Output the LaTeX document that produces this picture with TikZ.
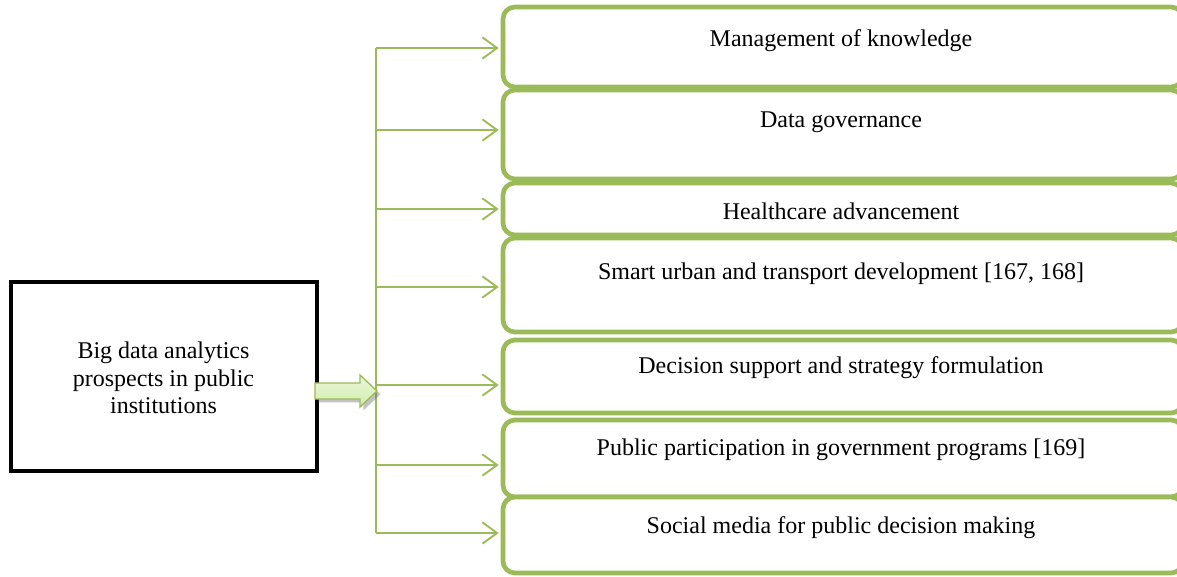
\documentclass[tikz,border=0pt]{standalone}
\usepackage{fontspec}
\setmainfont{Liberation Serif}
\usetikzlibrary{arrows.meta,shadows}
\definecolor{ggreen}{HTML}{9BBB59}
\definecolor{glight}{HTML}{EAF7DA}
\definecolor{gmid}{HTML}{D2ECAE}
\begin{document}
\begin{tikzpicture}[x=0.75pt,y=-0.75pt,
  gbox/.style={draw=ggreen,line width=3.5pt,rounded corners=9pt,fill=white,inner sep=0pt},
  txt/.style={font=\fontsize{18}{20.5}\selectfont,align=center,inner sep=0pt},
  garrow/.style={draw=ggreen,line width=1.4pt,-{Straight Barb[length=11pt,width=16pt,line width=1.4pt]}},
  mainbox/.style={draw=black,line width=3pt,fill=white,inner sep=0pt}]
\useasboundingbox (0,0) rectangle (1177,576);
\clip (0,0) rectangle (1177,576);
% main box
\node[mainbox,minimum width=306*0.75pt,minimum height=189*0.75pt] (main) at (163.5,376) {};
\node[txt] (maintxt) at (163.5,378) {Big data analytics\\prospects in public\\institutions};
% boxes
\foreach \n/\t/\b in {1/7/87,2/90/179,3/183/235,4/238/332,5/340/413,6/420/497,7/497/573}{
  \pgfmathsetmacro\h{(\b-\t)*0.75}
  \pgfmathsetmacro\c{(\b+\t)/2}
  \node[gbox,minimum width=680*0.75pt,minimum height=\h pt] (b\n) at (843,\c) {};
}
\node[txt] (t1) at (841,41) {Management of knowledge};
\node[txt] (t2) at (841,122) {Data governance};
\node[txt] (t3) at (841,211) {Healthcare advancement};
\node[txt] (t4) at (841,274) {Smart urban and transport development [167, 168]};
\node[txt] (t5) at (841,368) {Decision support and strategy formulation};
\node[txt] (t6) at (841,450) {Public participation in government programs [169]};
\node[txt] (t7) at (841,528) {Social media for public decision making};
% spine
\coordinate (s1) at (376,48);
\coordinate (s2) at (376,130);
\coordinate (s3) at (376,209);
\coordinate (s4) at (376,287);
\coordinate (s5) at (376,385);
\coordinate (s6) at (376,465);
\coordinate (s7) at (376,533);
\draw[ggreen,line width=1.4pt] (s1) -- (s7);
\foreach \n in {1,...,7}{
  \draw[garrow] (s\n) -- ([xshift=-1.5pt]s\n -| b\n.west);
}
% block arrow
\path[drop shadow={shadow xshift=2.5pt,shadow yshift=-2.5pt,opacity=0.4,fill=black!60},
  draw=ggreen,line width=1pt,top color=glight,bottom color=gmid]
  (315,383) -- (360,383) -- (360,375) -- (377,391) -- (360,407) -- (360,399) -- (315,399) -- cycle;
\end{tikzpicture}
\end{document}
